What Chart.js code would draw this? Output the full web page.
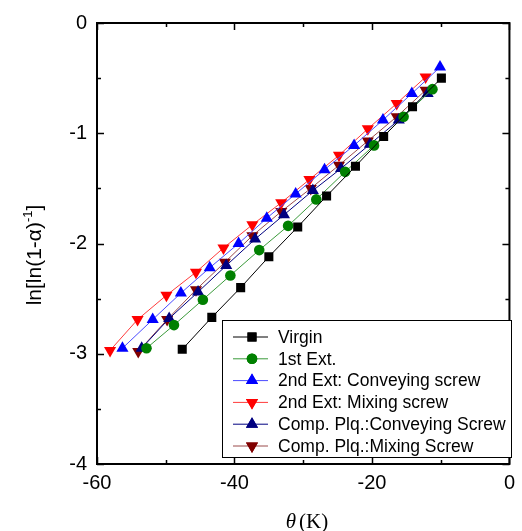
<!DOCTYPE html>
<html>
<head>
<meta charset="utf-8">
<script src="https://cdn.jsdelivr.net/npm/chart.js@4/dist/chart.umd.min.js"></script>
<style>
  html, body { margin: 0; padding: 0; background: #fff; }
  #wrap { width: 522px; height: 531px; }
</style>
</head>
<body>
<div id="wrap"><canvas id="chart" width="522" height="531"></canvas></div>
<script>
// theta (K) and ln[ln(1-a)^-1] for each sample
const virginX = [-47.6, -43.3, -39.1, -35.0, -30.8, -26.6, -22.4, -18.3, -14.1, -9.9];
const virginY = [-2.96, -2.67, -2.40, -2.12, -1.85, -1.57, -1.30, -1.03, -0.76, -0.50];

const ext1X = [-52.8, -48.8, -44.6, -40.6, -36.4, -32.2, -28.1, -23.9, -19.7, -15.4, -11.2];
const ext1Y = [-2.95, -2.74, -2.51, -2.29, -2.06, -1.84, -1.60, -1.35, -1.11, -0.85, -0.60];

const ext2ConvX = [-56.3, -51.9, -47.8, -43.6, -39.4, -35.3, -31.1, -26.9, -22.6, -18.4, -14.2, -10.1];
const ext2ConvY = [-2.95, -2.69, -2.45, -2.22, -2.00, -1.77, -1.55, -1.33, -1.11, -0.88, -0.64, -0.40];

const ext2MixX = [-58.1, -54.1, -49.9, -45.6, -41.6, -37.4, -33.2, -29.1, -24.8, -20.6, -16.4, -12.2];
const ext2MixY = [-2.97, -2.69, -2.47, -2.26, -2.04, -1.83, -1.63, -1.42, -1.20, -0.96, -0.73, -0.49];

const plqConvX = [-53.5, -49.5, -45.3, -41.2, -37.0, -32.8, -28.6, -24.5, -20.3, -16.1, -11.9];
const plqConvY = [-2.95, -2.68, -2.44, -2.20, -1.96, -1.74, -1.52, -1.32, -1.10, -0.88, -0.64];

const plqMixX = [-54.0, -49.8, -45.6, -41.4, -37.4, -33.2, -28.9, -24.8, -20.6, -16.4, -12.2];
const plqMixY = [-2.98, -2.69, -2.42, -2.17, -1.93, -1.71, -1.50, -1.29, -1.07, -0.85, -0.61];

const X_TICKS = [-60, -40, -20, 0];
const Y_TICKS = [0, -1, -2, -3, -4];

const SERIES = [
  { label: 'Virgin', xs: virginX, ys: virginY, color: '#000000', line: '#000000', style: 'rect', radius: 6.4, rotation: 0 },
  { label: '1st Ext.', xs: ext1X, ys: ext1Y, color: '#008000', line: '#3a9a3a', style: 'circle', radius: 5.3, rotation: 0 },
  { label: '2nd Ext: Conveying screw', xs: ext2ConvX, ys: ext2ConvY, color: '#0000ff', line: '#4b4bff', style: 'triangle', radius: 7, rotation: 0 },
  { label: '2nd Ext: Mixing screw', xs: ext2MixX, ys: ext2MixY, color: '#ff0000', line: '#ff3b3b', style: 'triangle', radius: 7, rotation: 180 },
  { label: 'Comp. Plq.:Conveying Screw', xs: plqConvX, ys: plqConvY, color: '#000080', line: '#000080', style: 'triangle', radius: 7, rotation: 0 },
  { label: 'Comp. Plq.:Mixing Screw', xs: plqMixX, ys: plqMixY, color: '#800000', line: '#9a4a4a', style: 'triangle', radius: 7, rotation: 180 }
];

const FONT = 'Arial, "Liberation Sans", sans-serif';

const datasets = SERIES.map(s => ({
  label: s.label,
  data: s.xs.map((x, i) => ({ x: x, y: s.ys[i] })),
  showLine: true,
  borderColor: s.line,
  borderWidth: 1,
  backgroundColor: s.color,
  pointStyle: s.style,
  pointRadius: s.radius,
  pointRotation: s.rotation,
  pointBorderWidth: 0,
  pointBorderColor: s.color,
  pointBackgroundColor: s.color,
  tension: 0
}));

// frame, inward ticks, axis titles and the boxed legend
const decorations = {
  id: 'decorations',
  afterDatasetsDraw(chart) {
    const { ctx, chartArea: a, scales: { x, y } } = chart;
    ctx.save();
    ctx.strokeStyle = '#000';
    ctx.lineWidth = 1.5;
    ctx.beginPath();
    for (let v = -60; v <= 0; v += 10) {
      const len = v % 20 === 0 ? 7 : 4;
      const px = Math.round(x.getPixelForValue(v)) + 0.5;
      ctx.moveTo(px, a.bottom); ctx.lineTo(px, a.bottom - len);
      ctx.moveTo(px, a.top); ctx.lineTo(px, a.top + len);
    }
    for (let v = -4; v <= 0; v += 0.5) {
      const len = Number.isInteger(v) ? 7 : 4;
      const py = Math.round(y.getPixelForValue(v)) + 0.5;
      ctx.moveTo(a.left, py); ctx.lineTo(a.left + len, py);
      ctx.moveTo(a.right, py); ctx.lineTo(a.right - len, py);
    }
    ctx.stroke();

    ctx.lineWidth = 2;
    ctx.strokeRect(a.left, a.top, a.right - a.left, a.bottom - a.top);

    // legend
    const lx = 222, ly = 320, lw = 289, lh = 137;
    ctx.fillStyle = '#fff';
    ctx.fillRect(lx, ly, lw, lh);
    ctx.lineWidth = 1;
    ctx.strokeRect(lx + 0.5, ly + 0.5, lw, lh);
    ctx.font = '17.5px ' + FONT;
    ctx.textBaseline = 'middle';
    ctx.textAlign = 'left';
    SERIES.forEach((s, i) => {
      const ry = 337 + i * 21.8;
      ctx.strokeStyle = s.line;
      ctx.lineWidth = 1;
      ctx.beginPath();
      ctx.moveTo(233, ry); ctx.lineTo(268, ry);
      ctx.stroke();
      ctx.fillStyle = s.color;
      Chart.helpers.drawPoint(ctx, { pointStyle: s.style, radius: s.radius, rotation: s.rotation, borderWidth: 0 }, 252, ry);
      ctx.fill();
      ctx.fillStyle = '#000';
      ctx.fillText(s.label, 278, ry + 1);
    });

    // y title with superscript
    ctx.save();
    ctx.translate(33, 255);
    ctx.rotate(-Math.PI / 2);
    ctx.fillStyle = '#000';
    ctx.textBaseline = 'alphabetic';
    const big = '21px ' + FONT;
    const small = '13px ' + FONT;
    const main = 'ln[ln(1-\u03b1)';
    const sup = '-1';
    const tail = ']';
    ctx.font = big;
    const w1 = ctx.measureText(main).width;
    const w3 = ctx.measureText(tail).width;
    ctx.font = small;
    const w2 = ctx.measureText(sup).width;
    const sx = -(w1 + w2 + w3) / 2;
    ctx.font = big;
    ctx.fillText(main, sx, 8);
    ctx.font = small;
    ctx.fillText(sup, sx + w1, -1);
    ctx.font = big;
    ctx.fillText(tail, sx + w1 + w2, 8);
    ctx.restore();

    // x title
    ctx.fillStyle = '#000';
    ctx.textBaseline = 'alphabetic';
    ctx.font = 'italic 21px "Liberation Serif", "Times New Roman", serif';
    const tw = ctx.measureText('\u03b8').width;
    ctx.font = '21px "Liberation Serif", "Times New Roman", serif';
    const kw = ctx.measureText('(K)').width;
    const gap = 3;
    const x0 = 307 - (tw + gap + kw) / 2;
    ctx.font = 'italic 21px "Liberation Serif", "Times New Roman", serif';
    ctx.fillText('\u03b8', x0, 528);
    ctx.font = '21px "Liberation Serif", "Times New Roman", serif';
    ctx.fillText('(K)', x0 + tw + gap, 528);
    ctx.restore();
  }
};

new Chart(document.getElementById('chart'), {
  type: 'scatter',
  data: { datasets: datasets },
  options: {
    responsive: false,
    animation: false,
    layout: { padding: { top: 23, right: 8, left: 0, bottom: 0 } },
    plugins: {
      legend: { display: false },
      tooltip: { enabled: false }
    },
    scales: {
      x: {
        type: 'linear',
        min: -60,
        max: 0,
        afterFit: (scale) => { scale.height = 67; },
        afterBuildTicks: (scale) => { scale.ticks = X_TICKS.map(v => ({ value: v })); },
        ticks: {
          color: '#000',
          padding: 7,
          font: { family: FONT, size: 20 }
        },
        grid: { display: true, drawOnChartArea: false, drawTicks: false },
        border: { display: false }
      },
      y: {
        type: 'linear',
        min: -4,
        max: 0,
        afterFit: (scale) => { scale.width = 97; },
        afterBuildTicks: (scale) => { scale.ticks = Y_TICKS.map(v => ({ value: v })); },
        ticks: {
          color: '#000',
          padding: 10,
          font: { family: FONT, size: 20 }
        },
        grid: { display: true, drawOnChartArea: false, drawTicks: false },
        border: { display: false }
      }
    }
  },
  plugins: [decorations]
});
</script>
</body>
</html>
